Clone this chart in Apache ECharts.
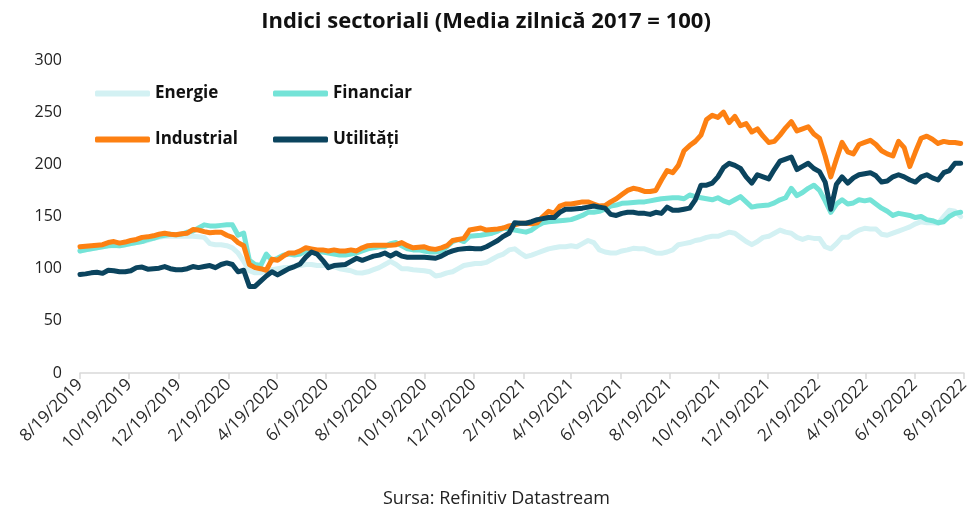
<!DOCTYPE html>
<html lang="ro">
<head>
<meta charset="UTF-8">
<title>Indici sectoriali</title>
<script src="https://cdn.jsdelivr.net/npm/echarts@6.0.0/dist/echarts.min.js"></script>
<style>
  html, body { margin: 0; padding: 0; background: #fff; }
  #chart { width: 972px; height: 508px; }
</style>
</head>
<body>
<div id="chart"></div>
<script>
// weekly values, first week = 8/19/2019
const energie = [
  117, 118, 119, 120, 121, 122, 122, 122, 123, 124, 125, 126, 127, 129, 130, 131, 131, 131, 131, 131,
  131, 130.6, 130, 124, 123, 123, 122, 120, 115, 107, 98, 96, 96, 98, 99, 100, 101, 101, 102, 103,
  104, 104, 103, 103, 103, 102, 100, 99, 98, 96, 95.8, 97, 99, 101, 104, 107, 104, 100, 100, 99,
  98.5, 98, 97, 93, 94, 96, 97, 100, 103, 104, 105, 105, 106, 109, 112, 114, 118, 119, 115, 111.5,
  113, 115, 117, 119, 120, 121, 121, 122, 121, 124, 127, 125, 118, 116, 115, 115, 117, 118, 119.5, 119,
  119, 117, 115, 114.7, 116, 118, 123, 124, 125, 127, 128, 130, 131, 131, 133, 135, 134, 130, 126, 123,
  126, 130, 131, 134, 137, 135, 134, 130, 128, 130, 129, 129, 121, 119, 124, 130, 130, 134, 137, 138.7,
  138, 138, 133, 132, 134, 136, 138, 140, 143, 145, 144, 144, 143.5, 150, 156, 155, 150
];
const financiar = [
  117, 118, 119, 120, 121, 122, 122.5, 122, 123, 124, 125, 126, 128, 129, 131, 132, 133, 132.5, 133, 135,
  136, 139, 142, 141, 141, 141.5, 142, 142, 132, 134, 108, 104, 103, 114, 108, 110, 113, 114, 113, 114,
  117, 117, 116, 116, 115, 114, 113, 113, 114, 115, 117, 119, 120, 121, 121, 124, 125, 122, 119, 118,
  118, 117, 116, 116, 117, 121, 126, 128, 126, 131, 131.5, 132, 133, 134, 136, 139, 138, 137, 136, 135,
  137, 141, 144, 145, 145.5, 146, 146.5, 147, 149, 151, 154, 154, 155, 157, 160, 161, 162.6, 163, 163.5, 164,
  164, 165, 166, 167, 167.5, 168, 168, 167, 170.6, 169, 168, 167, 166, 168, 165, 163, 166, 169, 164, 159,
  160, 160.5, 161, 163, 166, 168, 177, 170, 173, 177, 180, 175, 165, 154, 162, 166, 162, 163, 166, 165,
  166, 162, 158, 155, 151, 153, 152, 151, 149, 150, 147, 146, 144, 145, 150, 153, 154
];
const industrial = [
  121, 121.5, 122, 122.5, 123, 125, 126, 124.5, 125.5, 127, 128, 130, 130.5, 131.5, 133, 134, 133, 132.5, 133.5, 134,
  137.5, 137, 135.5, 134.5, 135, 135, 132, 130, 125, 122, 104, 101, 100, 98.5, 109, 108, 112, 115, 115, 117,
  120, 119, 118, 118, 117, 118, 117, 117, 118, 117, 120, 122, 122.5, 122.5, 122.5, 122.5, 123, 125, 122, 120,
  120.5, 121, 119, 118.5, 120, 122, 127, 128, 129, 137, 138, 139, 137, 137.5, 138, 139, 141, 142, 143.5, 143.5,
  143, 144, 150, 155, 153, 160, 162, 162, 163, 164, 164, 162, 160, 160.5, 164, 167, 171, 175, 177, 176,
  174, 174, 175, 185, 194, 192, 199, 213, 218, 222, 228, 243, 247, 245, 250, 240, 246, 237, 239, 231,
  234, 227, 221, 222, 228, 235, 241, 232, 234, 236, 229, 225, 208, 188, 205, 221, 212, 210, 219, 221,
  223, 219, 213, 210, 208, 222, 216, 198, 212, 225, 227, 224, 220, 222, 221, 221, 220
];
const utilitati = [
  94.5, 95, 96, 96.5, 95.5, 98.5, 98, 97, 97, 98, 101, 101.5, 99.5, 100, 100.5, 102, 100, 99, 99, 100,
  102, 101, 102, 103, 101, 104, 105.5, 104, 97, 98.5, 83, 83, 88, 93, 97, 94, 97, 100, 102, 104.5,
  111, 116, 114, 108, 101, 103, 103.5, 104, 107, 110, 108, 110, 112, 113, 115, 112, 115, 112, 111, 111,
  111, 111, 110.5, 110, 112, 115, 117, 118.5, 119, 119.5, 119, 119, 121, 124, 127, 131, 134, 144, 143.5, 143.5,
  145, 147, 148, 149, 149, 154, 157, 157, 157.5, 158, 159, 160, 159, 158, 152, 151, 153, 154, 154, 153,
  153, 152, 154, 153, 159, 156, 156, 157, 158, 166, 180, 180, 182, 188, 197, 201, 199, 196, 188, 182,
  190, 188, 186, 195, 203, 205, 207, 195, 198, 201, 196, 193, 183, 157, 181, 188, 182, 187, 190, 191,
  192, 189, 183, 184, 188, 190, 188, 185, 183, 188, 190, 187, 185, 192, 194, 201, 201
];
const tickLabels = [
  '8/19/2019', '10/19/2019', '12/19/2019', '2/19/2020', '4/19/2020', '6/19/2020', '8/19/2020',
  '10/19/2020', '12/19/2020', '2/19/2021', '4/19/2021', '6/19/2021', '8/19/2021', '10/19/2021',
  '12/19/2021', '2/19/2022', '4/19/2022', '6/19/2022', '8/19/2022'
];

function parseMDY(s) {
  const p = s.split('/').map(Number);
  return new Date(p[2], p[0] - 1, p[1]).getTime();
}
function fmtMDY(t) {
  const d = new Date(t);
  return (d.getMonth() + 1) + '/' + d.getDate() + '/' + d.getFullYear();
}

const tickTs = tickLabels.map(parseMDY);
const weekTs = energie.map((_, i) => new Date(2019, 7, 19 + 7 * i).getTime());
const pairs = arr => arr.map((v, i) => [weekTs[i], v]);

const FONT = '"Open Sans", "Liberation Sans", sans-serif';
const chart = echarts.init(document.getElementById('chart'));

const mkSeries = (name, data, color) => ({
  name: name,
  type: 'line',
  data: pairs(data),
  symbol: 'none',
  showSymbol: false,
  lineStyle: { width: 5, color: color, cap: 'round', join: 'round' },
  itemStyle: { color: color }
});

// rounded bar used as legend key
const legendBase = {
  icon: 'roundRect',
  itemWidth: 55,
  itemHeight: 6,
  padding: 0,
  textStyle: { fontFamily: FONT, fontSize: 17, fontWeight: 'bold', color: '#111' }
};

chart.setOption({
  animation: false,
  backgroundColor: '#fff',
  title: [
    {
      text: 'Indici sectoriali (Media zilnică 2017 = 100)',
      left: 'center',
      top: 6,
      textStyle: { fontFamily: FONT, fontSize: 22, fontWeight: 'bold', color: '#111' }
    },
    {
      text: 'Sursa: Refinitiv Datastream',
      left: 378,
      top: 485,
      textStyle: { fontFamily: FONT, fontSize: 18, fontWeight: 'normal', color: '#222' }
    }
  ],
  legend: [
    Object.assign({ data: ['Energie'], left: 95, top: 85 }, legendBase),
    Object.assign({ data: ['Financiar'], left: 273, top: 85 }, legendBase),
    Object.assign({ data: ['Industrial'], left: 95, top: 131 }, legendBase),
    Object.assign({ data: ['Utilități'], left: 273, top: 131 }, legendBase)
  ],
  grid: { left: 80, right: 6, top: 60, bottom: 135 },
  xAxis: {
    type: 'value',
    min: tickTs[0],
    max: tickTs[tickTs.length - 1],
    axisLine: { show: true, onZero: false, lineStyle: { color: '#d9d9d9', width: 1.5 } },
    axisTick: { show: true, customValues: tickTs, length: 6, lineStyle: { color: '#d9d9d9', width: 1.5 } },
    axisLabel: {
      customValues: tickTs,
      formatter: v => fmtMDY(v),
      rotate: 45,
      margin: 9,
      fontFamily: FONT,
      fontSize: 17,
      color: '#2b2b2b'
    },
    splitLine: { show: false }
  },
  yAxis: {
    type: 'value',
    min: 0,
    max: 300,
    interval: 50,
    axisLine: { show: false },
    axisTick: { show: false },
    splitLine: { show: false },
    axisLabel: { fontFamily: FONT, fontSize: 16, color: '#222', margin: 18 }
  },
  series: [
    mkSeries('Energie', energie, '#d3f1f3'),
    mkSeries('Financiar', financiar, '#74e3d7'),
    mkSeries('Industrial', industrial, '#fd8012'),
    mkSeries('Utilități', utilitati, '#0b445e')
  ]
});

window.addEventListener('resize', () => chart.resize());
</script>
</body>
</html>
